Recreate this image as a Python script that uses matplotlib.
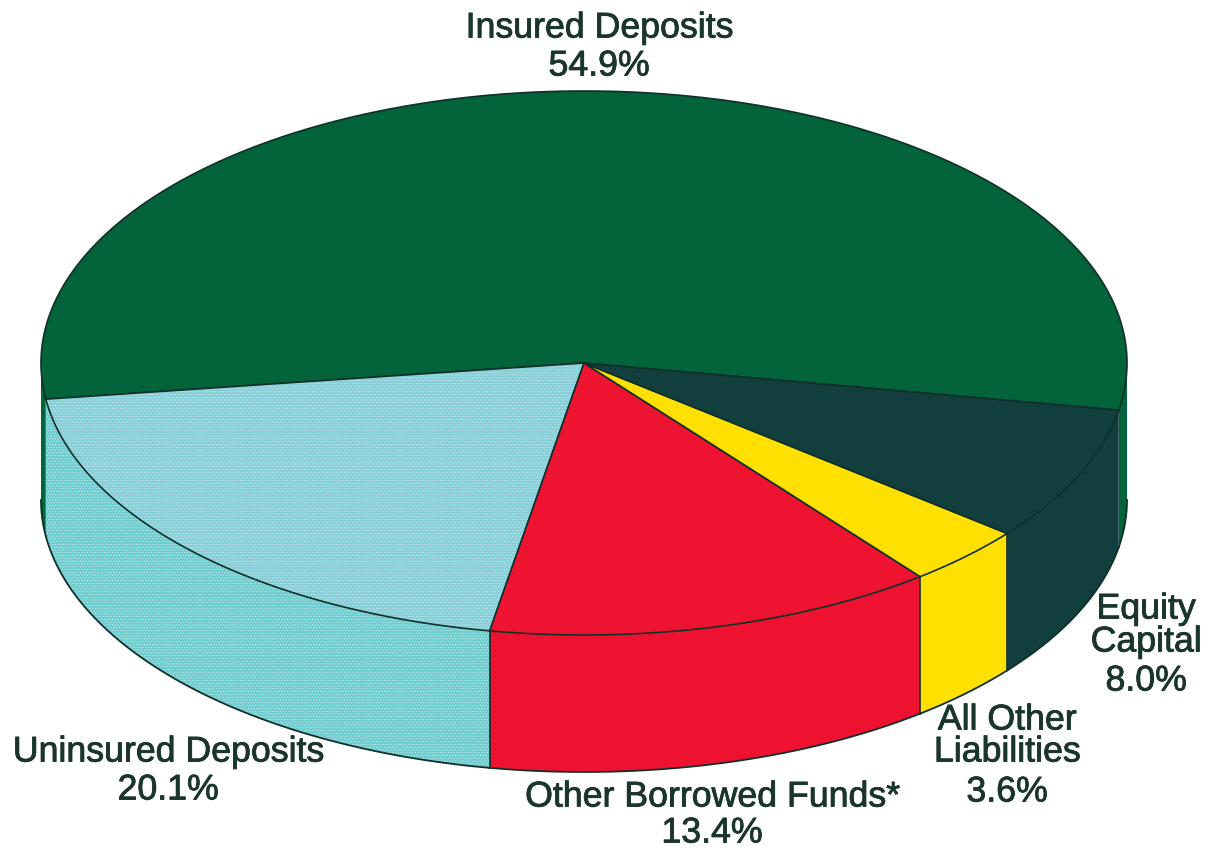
import numpy as np
import matplotlib
matplotlib.use("Agg")
import matplotlib.pyplot as plt
import matplotlib.patheffects as pe

# share of total, in drawing order (counter clockwise from the start angle)
names = ["Insured Deposits", "Uninsured Deposits", "Other Borrowed Funds*",
         "All Other Liabilities", "Equity Capital"]
values = [54.9, 20.1, 13.4, 3.6, 8.0]
top_colors = ["#03633a", "#86cfd8", "#ee1330", "#ffe000", "#123e3e"]
side_colors = ["#03633a", "#6fcdd0", "#ee1230", "#ffe000", "#123e3e"]

label_lines = [
    ["Insured Deposits", "54.9%"],
    ["Uninsured Deposits", "20.1%"],
    ["Other Borrowed Funds*", "13.4%"],
    ["All Other", "Liabilities", "3.6%"],
    ["Equity", "Capital", "8.0%"],
]
label_x = [599, 168, 712, 1007, 1146]
label_y = [[28, 66], [752, 790], [797, 833], [720, 752, 792], [609, 642, 681]]

cx, cy = 584, 363
rx, ry = 543, 272
depth = 137
start = -10
edge = "#10302a"
text_color = "#1a352d"
dotted = 1  # the uninsured slice is printed as a fine screen

plt.rcParams["hatch.color"] = "#e4f1f2"
plt.rcParams["hatch.linewidth"] = 0.3


def rim(t0, t1):
    t = np.radians(np.linspace(t0, t1, 200))
    return cx + rx * np.cos(t), cy + ry * np.sin(t)


fig = plt.figure(figsize=(12.09, 8.5), dpi=100)
ax = fig.add_axes([0, 0, 1, 1])
ax.set_xlim(0, 1209)
ax.set_ylim(850, 0)
ax.axis("off")

# y is flipped, so angles are negated further down to keep the order
angles = start + np.concatenate([[0], np.cumsum(values)]) * 360.0 / sum(values)

# walls first, only the front half of the disc can be seen
for i in range(len(values)):
    a0, a1 = -angles[i + 1], -angles[i]
    for lo, hi in [(a0, a1), (a0 + 360, a1 + 360)]:
        lo2, hi2 = max(lo, 0), min(hi, 180)
        if hi2 <= lo2:
            continue
        x, y = rim(lo2, hi2)
        xs = np.concatenate([x, x[::-1]])
        ys = np.concatenate([y, y[::-1] + depth])
        ax.fill(xs, ys, facecolor=side_colors[i], lw=0, zorder=1,
                hatch="......" if i == dotted else None)
        ax.plot(x, y + depth, color=edge, lw=1.3, zorder=3)
        # seam where this slice meets the next one on the front
        if i in (1, 2, 3):
            bx = cx + rx * np.cos(np.radians(lo2))
            by = cy + ry * np.sin(np.radians(lo2))
            ax.plot([bx, bx], [by, by + depth], color=edge, lw=1.2, zorder=3)

# top face
for i in range(len(values)):
    a0, a1 = -angles[i + 1], -angles[i]
    x, y = rim(a0, a1)
    xs = np.concatenate([[cx], x])
    ys = np.concatenate([[cy], y])
    ax.fill(xs, ys, facecolor=top_colors[i], lw=0, zorder=4,
            hatch="......" if i == dotted else None)
    ax.fill(xs, ys, fill=False, edgecolor=edge, lw=1.2, zorder=4)

for lines, lx, ys in zip(label_lines, label_x, label_y):
    for line, ly in zip(lines, ys):
        ax.text(lx, ly, line, ha="center", va="center", fontsize=25.7,
                family="Liberation Sans", color=text_color, zorder=5,
                path_effects=[pe.withStroke(linewidth=0.6, foreground=text_color)])

fig.savefig("out.png", dpi=100)
